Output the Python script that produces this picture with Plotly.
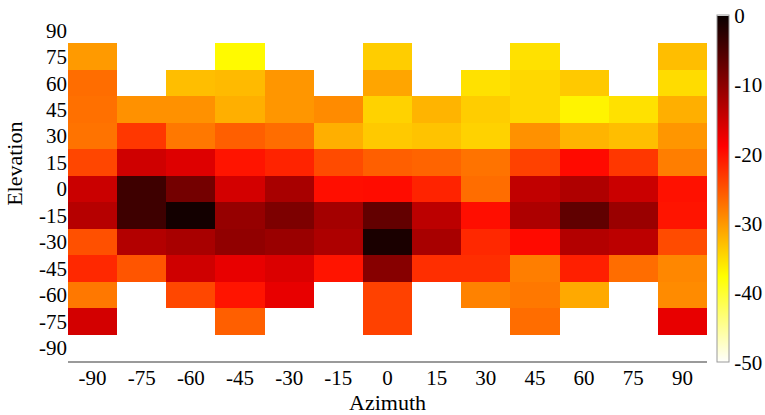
import plotly.graph_objects as go

nan = None

azimuth = [-90, -75, -60, -45, -30, -15, 0, 15, 30, 45, 60, 75, 90]
elevation = [90, 75, 60, 45, 30, 15, 0, -15, -30, -45, -60, -75, -90]

# one list per elevation row, values per azimuth column (dB)
row_p90 = [nan] * 13
row_p75 = [-30.1, nan, nan, -37.1, nan, nan, -33.8, nan, nan, -35.3, nan, nan, -32.7]
row_p60 = [-26.8, nan, -32.7, -32.4, -29.8, nan, -30.9, nan, -35.3, -34.6, -33.5, nan, -34.9]
row_p45 = [-27.0, -29.4, -29.4, -31.6, -29.8, -29.0, -34.2, -32.0, -33.8, -34.6, -36.7, -35.3, -31.6]
row_p30 = [-27.2, -22.8, -27.6, -25.7, -26.8, -31.6, -33.5, -33.1, -34.2, -29.4, -32.0, -32.7, -29.8]
row_p15 = [-23.9, -15.1, -16.2, -20.2, -21.3, -24.3, -25.7, -26.1, -27.2, -23.5, -19.5, -22.8, -28.0]
row_0 = [-14.7, -4.0, -8.1, -15.4, -12.1, -19.8, -19.6, -21.3, -26.8, -14.0, -12.6, -14.7, -20.0]
row_m15 = [-13.2, -4.0, -0.7, -10.7, -8.8, -11.8, -6.8, -13.6, -19.8, -12.5, -6.6, -11.0, -20.2]
row_m30 = [-24.6, -12.9, -12.1, -10.3, -11.0, -12.5, -1.2, -12.1, -21.7, -19.5, -12.9, -13.6, -24.3]
row_m45 = [-21.7, -25.0, -15.1, -17.0, -16.0, -20.2, -9.6, -22.1, -22.1, -28.0, -21.0, -26.8, -28.7]
row_m60 = [-27.6, nan, -24.0, -20.2, -17.0, nan, -23.5, nan, -28.3, -27.6, -31.2, nan, -29.0]
row_m75 = [-15.4, nan, nan, -25.7, nan, nan, -23.5, nan, nan, -26.8, nan, nan, -17.0]
row_m90 = [nan] * 13

z = [row_p90, row_p75, row_p60, row_p45, row_p30, row_p15, row_0,
     row_m15, row_m30, row_m45, row_m60, row_m75, row_m90]

cbar_ticks = [0, -10, -20, -30, -40, -50]

# reversed "hot" map: white at -50, yellow, red, black at 0
hot_r = [
    [0.0, "rgb(255,255,255)"],
    [0.25, "rgb(255,255,0)"],
    [0.625, "rgb(255,0,0)"],
    [1.0, "rgb(10,0,0)"],
]

font_family = "Liberation Serif, Times New Roman, serif"


def hyphen_labels(values):
    return [str(v) for v in values]


fig = go.Figure(
    go.Heatmap(
        x=azimuth,
        y=elevation,
        z=z,
        zmin=-50,
        zmax=0,
        colorscale=hot_r,
        hoverongaps=False,
        colorbar=dict(
            x=1.0,
            xanchor="left",
            xpad=10,
            y=0.5,
            yanchor="middle",
            len=1.01,
            lenmode="fraction",
            ypad=0,
            thickness=12,
            outlinecolor="#9a9a9a",
            outlinewidth=1,
            tickvals=cbar_ticks,
            ticktext=hyphen_labels(cbar_ticks),
            ticks="",
            tickfont=dict(family=font_family, size=21, color="black"),
        ),
    )
)

fig.update_layout(
    width=765,
    height=415,
    margin=dict(l=68, r=58, t=17, b=54, autoexpand=False),
    paper_bgcolor="white",
    plot_bgcolor="white",
    font=dict(family=font_family, size=21, color="black"),
    xaxis=dict(
        range=[-97.5, 97.5],
        tickvals=azimuth,
        ticktext=hyphen_labels(azimuth),
        ticks="",
        ticklabelstandoff=-3,
        showgrid=False,
        zeroline=False,
        showline=True,
        linecolor="#9a9a9a",
        linewidth=1.5,
        title=dict(text="Azimuth", standoff=5, font=dict(size=22)),
        tickfont=dict(size=21),
    ),
    yaxis=dict(
        range=[-97.5, 97.5],
        tickvals=elevation,
        ticktext=hyphen_labels(elevation),
        ticks="",
        showgrid=False,
        zeroline=False,
        showline=False,
        tickfont=dict(size=21),
    ),
    annotations=[
        dict(
            text="Elevation",
            textangle=-90,
            xref="paper",
            yref="paper",
            x=-0.083,
            y=0.573,
            xanchor="center",
            yanchor="middle",
            showarrow=False,
            font=dict(size=22),
        )
    ],
)

fig.write_html("out.html")
